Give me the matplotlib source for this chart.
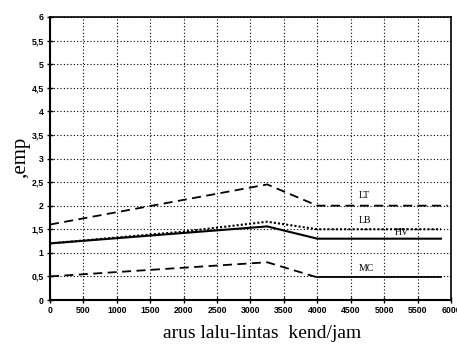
import matplotlib
matplotlib.use("Agg")
import matplotlib.pyplot as plt

# Data
lt_x = [0, 3250, 4000, 5950]
lt_y = [1.6, 2.45, 2.0, 2.0]
lb_x = [0, 2000, 3250, 4000, 5850]
lb_y = [1.2, 1.45, 1.66, 1.5, 1.5]
hv_x = [0, 3250, 4000, 5850]
hv_y = [1.2, 1.56, 1.3, 1.3]
mc_x = [0, 3250, 4000, 5850]
mc_y = [0.5, 0.8, 0.48, 0.48]

x_ticks = [0, 500, 1000, 1500, 2000, 2500, 3000, 3500, 4000, 4500, 5000, 5500, 6000]
y_ticks = [0, 0.5, 1, 1.5, 2, 2.5, 3, 3.5, 4, 4.5, 5, 5.5, 6]
y_tick_labels = ["0", "0,5", "1", "1,5", "2", "2,5", "3", "3,5", "4", "4,5", "5", "5,5", "6"]

series_labels = ["LT", "LB", "HV", "MC"]
label_pos_x = [4620, 4620, 5150, 4620]
label_pos_y = [2.12, 1.6, 1.34, 0.58]

fig = plt.figure(figsize=(4.57, 3.49), dpi=100)
ax = fig.add_axes([50/457, 1-300/349, 401/457, 283/349])

ax.set_xlim(0, 6000)
ax.set_ylim(0, 6)
ax.set_xticks(x_ticks)
ax.set_yticks(y_ticks)
ax.set_xticklabels([str(t) for t in x_ticks], fontsize=6.3, fontweight="bold", family="Liberation Sans")
ax.set_yticklabels(y_tick_labels, fontsize=6.3, fontweight="bold", family="Liberation Sans")
ax.tick_params(direction="inout", length=5, width=1, pad=2, color="black")
ax.grid(True, linestyle=(0, (1, 2)), color="black", linewidth=0.8)
ax.set_axisbelow(True)
for side in ["left", "bottom"]:
    ax.spines[side].set_linewidth(1.5)
for side in ["top", "right"]:
    ax.spines[side].set_linewidth(1.2)

ax.plot(lt_x, lt_y, color="black", linewidth=1.3, linestyle=(0, (5, 3)))
ax.plot(lb_x, lb_y, color="black", linewidth=1.5, linestyle=(0, (1, 1)))
ax.plot(hv_x, hv_y, color="black", linewidth=1.5, linestyle="-")
ax.plot(mc_x[:3], mc_y[:3], color="black", linewidth=1.3, linestyle=(0, (5, 3)))
ax.plot(mc_x[2:], mc_y[2:], color="black", linewidth=1.3, linestyle="-")

for lab, lx, ly in zip(series_labels, label_pos_x, label_pos_y):
    ax.text(lx, ly, lab, fontsize=7, family="Liberation Serif", color="black",
            ha="left", va="bottom")

fig.text(262/457, 1-333/349, "arus lalu-lintas  kend/jam", fontsize=14,
         family="Liberation Serif", ha="center", va="center")
fig.text(21/457, 1-157/349, ",emp", fontsize=15, family="Liberation Serif",
         rotation=90, ha="center", va="center")

fig.savefig("out.png", dpi=100)
